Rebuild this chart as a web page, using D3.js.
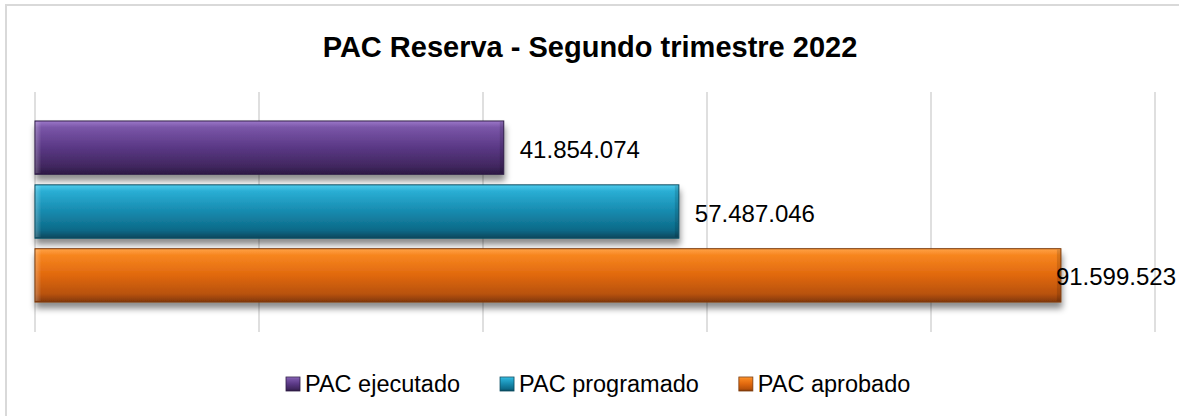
<!DOCTYPE html>
<html>
<head>
<meta charset="utf-8">
<script src="https://cdn.jsdelivr.net/npm/d3@7"></script>
<style>
  html, body { margin: 0; padding: 0; background: #fff; }
  svg { display: block; font-family: Arial, "Liberation Sans", sans-serif; }
</style>
</head>
<body>
<svg id="chart" width="1179" height="416"></svg>
<script>
// ---- data ----
const title = "PAC Reserva - Segundo trimestre 2022";
const series = ["PAC ejecutado", "PAC programado", "PAC aprobado"];
const values = [41854074, 57487046, 91599523];
const xTicks = [0, 20000000, 40000000, 60000000, 80000000, 100000000];

// ---- styles ----
const palette = [
  { top: "#9c79c9", hi: "#7a56a8", mid: "#5a3885", low: "#41275f", bot: "#2c1943", stroke: "#2f1d47" },
  { top: "#4fcbec", hi: "#2aaed4", mid: "#178aae", low: "#0d6a88", bot: "#07475d", stroke: "#0a4b60" },
  { top: "#ffa247", hi: "#f7861f", mid: "#e0680e", low: "#b8520a", bot: "#823806", stroke: "#7a3a0c" }
];

const W = 1179, H = 416;
const svg = d3.select("#chart");
const defs = svg.append("defs");

const loc = d3.formatLocale({ decimal: ",", thousands: ".", grouping: [3], currency: ["", ""] });
const fmt = loc.format(",d");

// background + border
svg.append("rect").attr("x", 0).attr("y", 0).attr("width", W).attr("height", H).attr("fill", "#fff");
svg.append("rect").attr("x", 6).attr("y", 5).attr("width", W + 20).attr("height", H + 20)
  .attr("fill", "none").attr("stroke", "#d9d9d9").attr("stroke-width", 2);

// title
svg.append("text").attr("x", 590).attr("y", 57).attr("text-anchor", "middle")
  .attr("font-size", 29).attr("font-weight", "bold").attr("fill", "#000").text(title);

// scales
const x = d3.scaleLinear().domain([0, 100000000]).range([35, 1155]);
const y = d3.scaleBand().domain(series).range([115.7, 307.3]).paddingInner(0.165).paddingOuter(0.0825);

// gridlines
svg.append("g").selectAll("line").data(xTicks).join("line")
  .attr("x1", d => x(d)).attr("x2", d => x(d))
  .attr("y1", 92).attr("y2", 332)
  .attr("stroke", "#d4d4d4").attr("stroke-width", 1.5);

// gradients and shadow
palette.forEach((p, i) => {
  const g = defs.append("linearGradient").attr("id", "g" + i).attr("x1", 0).attr("y1", 0).attr("x2", 0).attr("y2", 1);
  [[0, p.top], [0.12, p.hi], [0.5, p.mid], [0.85, p.low], [1, p.bot]].forEach(s =>
    g.append("stop").attr("offset", s[0]).attr("stop-color", s[1]));
});
const hg = defs.append("linearGradient").attr("id", "edgeL").attr("x1", 0).attr("y1", 0).attr("x2", 1).attr("y2", 0);
hg.append("stop").attr("offset", 0).attr("stop-color", "#fff").attr("stop-opacity", 0.25);
hg.append("stop").attr("offset", 1).attr("stop-color", "#fff").attr("stop-opacity", 0);
const f = defs.append("filter").attr("id", "shadow").attr("x", "-5%").attr("y", "-20%").attr("width", "110%").attr("height", "170%");
f.append("feDropShadow").attr("dx", 1).attr("dy", 6).attr("stdDeviation", 3)
  .attr("flood-color", "#000").attr("flood-opacity", 0.45);

// bars
const bars = svg.append("g");
series.forEach((s, i) => {
  const bx = x(0), bw = x(values[i]) - x(0), by = y(s), bh = y.bandwidth();
  bars.append("rect").attr("x", bx).attr("y", by).attr("width", bw).attr("height", bh)
    .attr("fill", `url(#g${i})`).attr("stroke", palette[i].stroke).attr("stroke-width", 1)
    .attr("filter", "url(#shadow)");
  // left bevel highlight
  bars.append("rect").attr("x", bx + 0.5).attr("y", by + 1).attr("width", 6).attr("height", bh - 2)
    .attr("fill", "url(#edgeL)");
  // right bevel shade
  bars.append("rect").attr("x", bx + bw - 4).attr("y", by + 1).attr("width", 3.5).attr("height", bh - 2)
    .attr("fill", "#000").attr("opacity", 0.12);
});

// value labels
const lbl = svg.append("g");
series.forEach((s, i) => {
  const t = lbl.append("text").attr("font-size", 24).attr("fill", "#000")
    .attr("y", y(s) + y.bandwidth() / 2 + 10).text(fmt(values[i]));
  const tw = t.node().getComputedTextLength();
  const lx = Math.min(x(values[i]) + 16, W - 3 - tw);
  t.attr("x", lx);
});

// legend
const leg = svg.append("g");
let lx = 286;
series.forEach((s, i) => {
  leg.append("rect").attr("x", lx).attr("y", 377).attr("width", 14).attr("height", 14)
    .attr("fill", `url(#g${i})`).attr("stroke", palette[i].stroke).attr("stroke-width", 0.8);
  const t = leg.append("text").attr("x", lx + 19).attr("y", 392).attr("font-size", 23.5).attr("fill", "#000").text(s);
  lx += 19 + t.node().getComputedTextLength() + 40;
});
</script>
</body>
</html>
